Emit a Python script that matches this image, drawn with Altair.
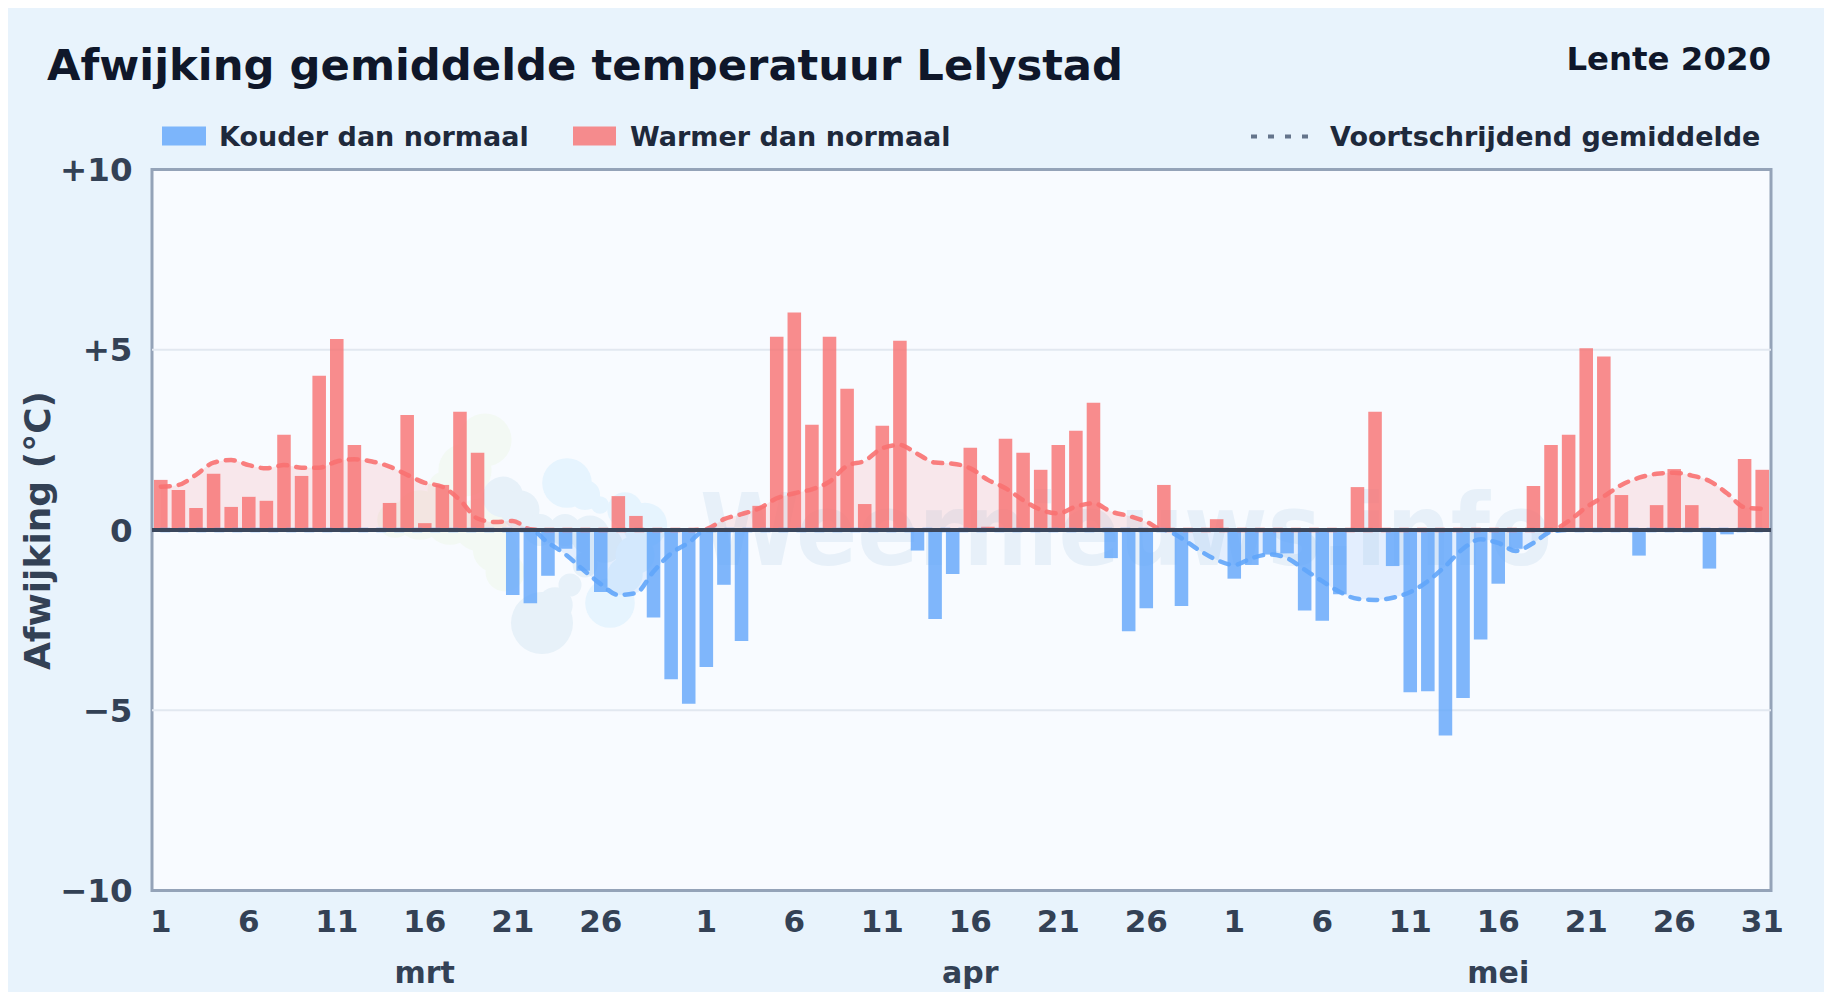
import altair as alt
import pandas as pd

# ---- values ----
mar_dev = [1.39,1.11,0.61,1.56,0.64,0.92,0.81,2.64,1.50,4.28,5.30,2.36,0,0.75,3.19,0.19,1.25,3.28,2.14,0,
           -1.80,-2.03,-1.27,-0.52,-1.13,-1.72,0.94,0.39,-2.43,-4.14,-4.82]
apr_dev = [-3.80,-1.52,-3.08,0.67,5.36,6.03,2.92,5.36,3.92,0.72,2.89,5.25,-0.57,-2.47,-1.22,2.28,0.09,2.53,2.14,1.67,
           2.36,2.75,3.53,-0.78,-2.81,-2.17,1.25,-2.11,0,0.30]
may_dev = [-1.35,-0.97,-0.68,-0.65,-2.23,-2.52,-1.78,1.19,3.28,-1.00,-4.50,-4.47,-5.70,-4.66,-3.04,-1.49,-0.52,1.22,
           2.36,2.64,5.04,4.81,0.97,-0.71,0.69,1.69,0.69,-1.07,-0.12,1.97,1.67]
mar_avg = [1.20,1.25,1.53,1.87,1.94,1.80,1.71,1.80,1.73,1.73,1.90,1.96,1.90,1.76,1.53,1.31,1.20,0.83,0.32,0.22,
           0.25,0.02,-0.35,-0.68,-1.10,-1.50,-1.80,-1.75,-1.15,-0.65,-0.35]
apr_avg = [0.03,0.30,0.44,0.60,0.88,1.02,1.13,1.34,1.78,1.92,2.27,2.36,2.11,1.87,1.84,1.71,1.39,1.16,0.83,0.56,
           0.46,0.65,0.74,0.51,0.39,0.23,0.0,-0.23,-0.56,-0.83]
may_avg = [-0.97,-0.78,-0.68,-0.78,-1.10,-1.42,-1.72,-1.91,-1.94,-1.88,-1.72,-1.42,-1.00,-0.52,-0.26,-0.36,-0.58,-0.36,
           -0.05,0.25,0.63,0.93,1.25,1.45,1.56,1.59,1.51,1.36,1.02,0.63,0.59]
months = ["mrt", "apr", "mei"]
month_days = [len(mar_dev), len(apr_dev), len(may_dev)]
tick_days = [1, 6, 11, 16, 21, 26]
y_ticks = [-10, -5, 0, 5, 10]
grid_values = [-5, 5]
TITLE = "Afwijking gemiddelde temperatuur Lelystad"
SUB = "Lente 2020"
WATERMARK = "Weernieuws.info"
Y_TITLE = "Afwijking (°C)"

W, H = 1619, 721
RED, BLUE = "#f87171", "#60a5fa"
INK, AX = "#0f172a", "#334155"
FONT = "DejaVu Sans"

keys, devs, avgs = [], [], []
for m, n, d, a in zip(months, month_days, [mar_dev, apr_dev, may_dev], [mar_avg, apr_avg, may_avg]):
    for i in range(n):
        keys.append(f"{m} {i+1}")
        devs.append(d[i])
        avgs.append(a[i])
df = pd.DataFrame({"day": keys, "dev": devs, "avg": avgs})
ticks = [f"{m} {d}" for m in months for d in tick_days] + ["mei 31"]

xs = alt.Scale(type="band", domain=keys, paddingInner=0.23, paddingOuter=0.115)
ys = alt.Scale(domain=[-10, 10], nice=False)
X = alt.X("day:N", scale=xs, sort=None, title=None,
          axis=alt.Axis(values=ticks, labelExpr="split(datum.value,' ')[1]", labelAngle=0, labelFontSize=31,
                        labelFont=FONT, labelFontWeight="bold", labelColor=AX, labelPadding=17, ticks=False,
                        domain=False, grid=False, labelFlush=False, labelOverlap=False))
y_axis = alt.Axis(values=y_ticks,
                  labelExpr="datum.value>0?'+'+datum.value:(datum.value<0?'\u2212'+abs(datum.value):'0')",
                  labelFontSize=32.5, labelFont=FONT, labelFontWeight="bold", labelColor=AX, labelPadding=20,
                  labelOffset=1, ticks=False, domain=False, grid=False,
                  titleFont=FONT, titleFontSize=36, titleFontWeight="bold", titleColor=AX, titlePadding=2)
Y = alt.Y("dev:Q", scale=ys, stack=None, title=Y_TITLE, axis=y_axis)

one = alt.Data(values=[{}])

def label(text, x, y, size, color=INK, align="left", baseline="alphabetic", font=FONT, **kw):
    return alt.Chart(one).mark_text(text=text, font=font, fontWeight="bold", fontSize=size, color=color,
                                    align=align, baseline=baseline, **kw).encode(x=alt.value(x), y=alt.value(y))

layers = [alt.Chart(pd.DataFrame({"g": grid_values})).mark_rule(color="#e2e8f0", strokeWidth=2).encode(
    y=alt.Y("g:Q", scale=ys, title=Y_TITLE, axis=y_axis))]

# watermark logo blobs (page px, radius, colour)
GREEN, GREY, SKY = "#f3f9f4", "#e7f1f9", "#e6f4fe"
blobs = [(485,440,30,GREEN),(465,470,30,GREEN),(447,490,22,GREEN),(395,520,20,GREEN),(420,515,28,GREEN),(450,520,28,GREEN),
         (480,525,30,GREEN),(495,550,25,GREEN),(505,572,22,GREEN),
         (503,497,23,GREY),(520,510,22,GREY),(540,530,18,GREY),(565,530,18,GREY),(590,535,22,GREY),(605,545,20,GREY),
         (585,565,14,GREY),(570,585,13,GREY),(555,605,20,GREY),(542,623,35,GREY),
         (567,483,28,SKY),(585,495,17,SKY),(600,505,10,SKY),(625,510,20,SKY),(645,525,25,SKY),(635,555,22,SKY),
         (625,575,20,SKY),(610,603,28,SKY)]
layers += [alt.Chart(one).mark_circle(opacity=1, color=c).encode(
              x=alt.value(px-152), y=alt.value(py-169.5), size=alt.value(3.1416*r*r))
           for px, py, r, c in blobs]
layers.append(label(WATERMARK, 700-152, 565-169.5, 100.4, color="#e7f0f9", font="DejaVu Sans Condensed"))

base = alt.Chart(df)
pos = base.transform_calculate(p="max(datum.avg,0)", zero="0")
neg = base.transform_calculate(p="min(datum.avg,0)", zero="0")
Yp = alt.Y("p:Q", scale=ys, title=Y_TITLE, axis=y_axis)
layers += [
    pos.mark_area(color=RED, opacity=0.14, interpolate="monotone").encode(x=X, y=Yp, y2=alt.Y2("zero:Q")),
    neg.mark_area(color=BLUE, opacity=0.14, interpolate="monotone").encode(x=X, y=Yp, y2=alt.Y2("zero:Q")),
    base.mark_bar(opacity=0.8).encode(x=X, y=Y,
        color=alt.condition("datum.dev<0", alt.value(BLUE), alt.value(RED))),
    pos.mark_line(color=RED, strokeWidth=4.5, strokeDash=[9, 9], strokeCap="round", opacity=0.9, interpolate="monotone").encode(x=X, y=Yp),
    neg.mark_line(color=BLUE, strokeWidth=4.5, strokeDash=[9, 9], strokeCap="round", opacity=0.9, interpolate="monotone").encode(x=X, y=Yp),
    alt.Chart(one).mark_rule(color="#3b475c", strokeWidth=4).encode(y=alt.datum(0, scale=ys)),
]
# month names, placed through the day scale
mdf = pd.DataFrame({"day": [f"{m} 16" for m in months], "name": months})
layers.append(alt.Chart(mdf).mark_text(font=FONT, fontWeight="bold", fontSize=30, color=AX, baseline="alphabetic").encode(
    x=alt.X("day:N", scale=xs, sort=None), y=alt.value(H+92), text="name:N"))
# title + legend
layers += [
    label(TITLE, -105, -90, 43.3),
    label(SUB, W, -100, 32.4, align="right"),
    alt.Chart(one).mark_rect(color=BLUE, opacity=0.8).encode(x=alt.value(10), x2=alt.value(54), y=alt.value(-43), y2=alt.value(-24)),
    label("Kouder dan normaal", 67, -24, 27, color="#1e293b"),
    alt.Chart(one).mark_rect(color=RED, opacity=0.8).encode(x=alt.value(421), x2=alt.value(464), y=alt.value(-43), y2=alt.value(-24)),
    label("Warmer dan normaal", 478, -24, 27, color="#1e293b"),
    alt.Chart(one).mark_rule(color="#64748b", strokeWidth=4, strokeDash=[6, 11]).encode(
        x=alt.value(1099), x2=alt.value(1157), y=alt.value(-33)),
    label("Voortschrijdend gemiddelde", 1178, -24, 27, color="#1e293b"),
]

chart = alt.layer(*layers).properties(
    width=W, height=H, background="#e8f3fc",
    padding={"left": 144, "top": 161.5, "right": 53, "bottom": 101.5},
    autosize=alt.AutoSizeParams(type="none", contains="content"),
).configure_view(fill="#f8fbff", stroke="#94a3b8", strokeWidth=3).configure_axis(labelLimit=0)

chart.save("out.html", embed_options={"renderer": "svg", "actions": False})
